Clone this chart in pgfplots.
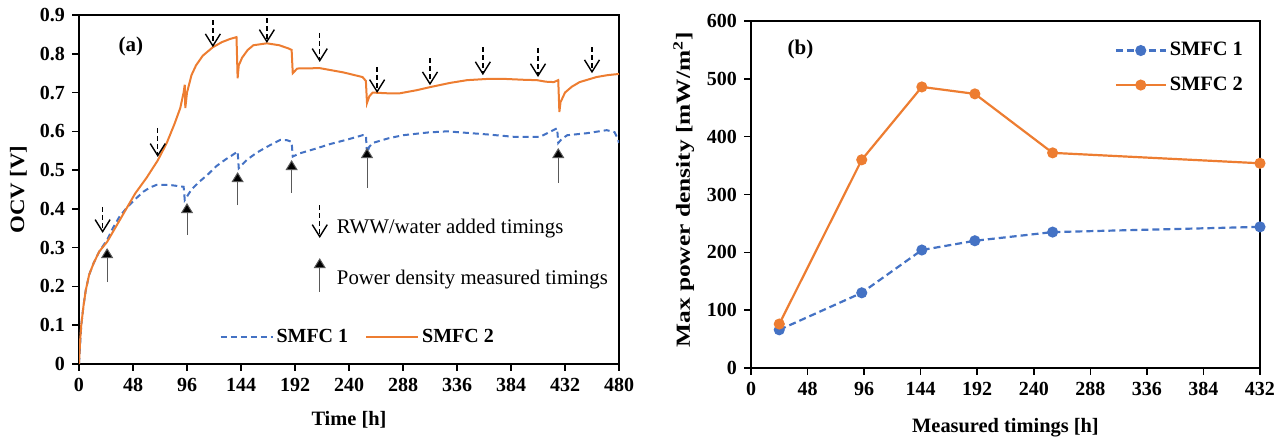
\documentclass[border=0pt]{standalone}
\usepackage{pgfplots}
\pgfplotsset{compat=1.18}
\usepackage{pgfplotstable}
\usepackage{fontspec}
\setmainfont{Liberation Serif}
\usetikzlibrary{arrows.meta}
\definecolor{sorange}{HTML}{ED7D31}
\definecolor{sblue}{HTML}{4472C4}

\pgfplotstableread{
t v
0 0
1 0.06
2 0.1
4 0.15
6 0.19
9 0.23
13 0.26
18 0.29
25 0.315
32 0.35
40 0.39
50 0.44
60 0.48
70 0.525
78 0.57
85 0.62
90 0.66
93 0.70
94 0.72
94.5 0.66
96 0.70
100 0.745
104 0.77
110 0.795
119 0.817
127 0.83
134 0.838
140 0.843
141 0.737
142 0.77
145 0.79
150 0.81
155 0.822
167 0.827
178 0.822
186 0.814
189 0.81
190 0.75
194 0.762
214 0.763
235 0.752
252 0.74
255 0.73
256 0.673
258 0.69
261 0.70
275 0.698
285 0.698
300 0.706
312 0.714
330 0.725
345 0.732
362 0.735
380 0.735
395 0.733
407 0.732
415 0.728
422 0.727
426 0.732
427 0.65
428 0.675
432 0.70
438 0.715
445 0.727
460 0.74
470 0.745
480 0.748
}\smfcB

\pgfplotstableread{
t v
0 0
2 0.1
4 0.15
6 0.19
9 0.23
13 0.26
18 0.29
25 0.32
30 0.35
36 0.38
43 0.405
50 0.425
57 0.444
63 0.455
69 0.462
80 0.462
93 0.457
94 0.423
100 0.45
107 0.47
115 0.49
122 0.51
130 0.527
137 0.54
141 0.548
142 0.505
149 0.526
158 0.545
167 0.56
179 0.578
185 0.577
189 0.573
190 0.535
196 0.543
210 0.555
223 0.567
240 0.58
252 0.59
255 0.59
256 0.543
258 0.56
261 0.57
275 0.582
288 0.59
310 0.597
327 0.60
345 0.596
363 0.592
386 0.586
410 0.586
418 0.598
425 0.608
426 0.57
429 0.58
434 0.59
451 0.595
469 0.603
476 0.598
479 0.58
480 0.57
}\smfcA

\pgfplotstableread{
t y0 dv
21 0.405 -0.067
70 0.609 -0.075
119 0.887 -0.070
167 0.892 -0.064
214 0.854 -0.075
265 0.766 -0.067
312 0.789 -0.070
359 0.817 -0.072
408 0.815 -0.075
456 0.817 -0.067
}\water

\pgfplotstableread{
t y0 dv
25 0.211 0.088
96 0.333 0.082
141 0.410 0.085
189 0.441 0.085
256 0.454 0.103
426 0.467 0.090
}\measured

\pgfplotstableread{
t p1 p2
24 66 76
94 130 360
145 204 486
190 220 474
256 235 372
432 244 354
}\power

\begin{document}
\begin{tikzpicture}
\useasboundingbox (0,0) rectangle (643.5pt,221.5pt);
\pgfplotsset{
  every axis/.append style={
    scale only axis,
    axis line style={line width=0.8pt},
    tick style={line width=0.8pt, black},
    tick align=outside,
    major tick length=3.5pt,
    xtick pos=bottom, ytick pos=left,
    tick label style={font=\fontsize{10}{11}\selectfont\bfseries},
    xlabel style={font=\fontsize{10.2}{12}\selectfont\bfseries},
    /pgf/number format/assume math mode=true,
  }
}
% Panel (a)
\begin{axis}[
  at={(39.5pt,39.5pt)}, anchor=south west,
  width=270pt, height=174.5pt,
  xmin=0, xmax=480, ymin=0, ymax=0.9,
  xtick={0,48,...,480},
  ytick={0,0.1,0.2,0.3,0.4,0.5,0.6,0.7,0.8,0.9},
  yticklabel style={/pgf/number format/fixed, /pgf/number format/precision=1},
  xlabel={Time [h]}, ylabel={OCV [V]},
  xlabel style={at={(axis description cs:0.5,-0.16)}, anchor=center},
  ylabel style={at={(axis description cs:-0.112,0.5)}, anchor=center,
    font=\fontsize{10.2}{12}\selectfont\bfseries\addfontfeatures{FakeStretch=1.12}},
  legend style={draw=none, fill=none, at={(axis description cs:0.517,0.077)}, anchor=center,
    font=\fontsize{10}{12}\selectfont\bfseries, legend columns=2,
    /tikz/every even column/.append style={column sep=7pt},
    nodes={inner sep=1.5pt}},
  legend image code/.code={\draw[#1] (0pt,0pt) -- (26pt,0pt);},
]
\addplot[sblue, line width=1pt, dash pattern=on 3pt off 2pt] table[x=t,y=v] {\smfcA};
\addlegendentry{SMFC 1}
\addplot[sorange, line width=1pt] table[x=t,y=v] {\smfcB};
\addlegendentry{SMFC 2}
\addplot[forget plot, black, line width=0.7pt, dash pattern=on 2.5pt off 1.5pt,
  quiver={u=0, v=\thisrow{dv}},
  -{Straight Barb[length=6pt,width=7.5pt,line width=0.7pt]}] table[x=t,y=y0] {\water};
\addplot[forget plot, gray!70!black, line width=0.5pt,
  quiver={u=0, v=\thisrow{dv}},
  -{Triangle[length=5pt,width=6pt,fill=black]}] table[x=t,y=y0] {\measured};
\node[font=\fontsize{10.5}{12}\selectfont\bfseries] at (axis cs:46,0.82) {(a)};
% legend glyphs for arrows
\draw[black, line width=0.7pt, dash pattern=on 2.5pt off 1.5pt,
  -{Straight Barb[length=6pt,width=7.5pt,line width=0.7pt]}] (axis cs:214,0.41) -- (axis cs:214,0.325);
\draw[gray!70!black, line width=0.5pt, -{Triangle[length=5pt,width=6pt,fill=black]}]
  (axis cs:214,0.186) -- (axis cs:214,0.273);
\node[anchor=west, font=\fontsize{10.4}{12}\selectfont] at (axis cs:223,0.35) {RWW/water added timings};
\node[anchor=west, font=\fontsize{10.4}{12}\selectfont] at (axis cs:223,0.217) {Power density measured timings};
\end{axis}
% Panel (b)
\begin{axis}[
  at={(375.5pt,37.5pt)}, anchor=south west,
  width=254.5pt, height=173.5pt,
  xmin=0, xmax=432, ymin=0, ymax=600,
  xtick={0,48,...,432},
  ytick={0,100,...,600},
  xlabel={Measured timings [h]}, ylabel={Max power density [mW/m\textsuperscript{2}]},
  xlabel style={at={(axis description cs:0.5,-0.173)}, anchor=center},
  ylabel style={at={(axis description cs:-0.132,0.513)}, anchor=center,
    font=\fontsize{10}{12}\selectfont\bfseries\addfontfeatures{FakeStretch=1.27}},
  legend style={draw=none, fill=none, at={(axis description cs:0.985,0.96)}, anchor=north east,
    font=\fontsize{10.2}{12}\selectfont\bfseries, row sep=6pt, nodes={inner sep=1.5pt}},
  legend image code/.code={\draw[mark repeat=2, mark phase=2, #1] plot coordinates {(0pt,0pt) (12.5pt,0pt) (25pt,0pt)};},
]
\addplot[sblue, line width=1.1pt, dash pattern=on 3.5pt off 2pt, mark=*, mark size=2.2pt,
  mark options={solid, fill=sblue}] table[x=t,y=p1] {\power};
\addlegendentry{SMFC 1}
\addplot[sorange, line width=1.1pt, mark=*, mark size=2.2pt, mark options={solid, fill=sorange}] table[x=t,y=p2] {\power};
\addlegendentry{SMFC 2}
\node[font=\fontsize{10.5}{12}\selectfont\bfseries] at (axis cs:42,550) {(b)};
\end{axis}
\end{tikzpicture}
\end{document}
